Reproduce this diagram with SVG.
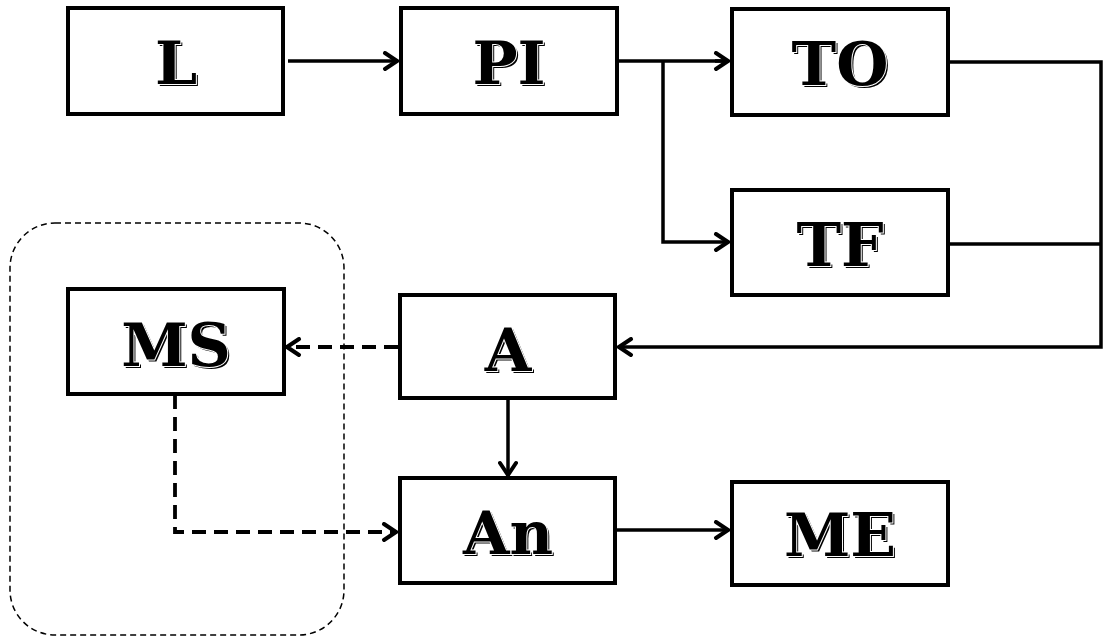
<svg xmlns="http://www.w3.org/2000/svg" width="1103" height="638" viewBox="0 0 1103 638">
<style>
.box{fill:#fff;stroke:#000;stroke-width:4}
.lbl{font-family:"DejaVu Serif","Liberation Serif",serif;font-weight:bold;font-size:60px;text-anchor:middle}
.sh{fill:#000}
.fg{fill:#000;stroke:#fff;stroke-width:2;paint-order:stroke}
.c{fill:none;stroke:#000;stroke-width:3.5}
.d{fill:none;stroke:#000;stroke-width:3.8;stroke-dasharray:14 8}
.grp{fill:none;stroke:#000;stroke-width:1.5;stroke-dasharray:6 4}
</style>
<defs>
<marker id="ar" viewBox="0 0 18 20" refX="16" refY="10" markerWidth="18" markerHeight="20" markerUnits="userSpaceOnUse" orient="auto">
<path d="M3,2 L15,10 L3,18" fill="none" stroke="#000" stroke-width="4" stroke-linecap="round" stroke-linejoin="miter"/>
</marker>
</defs>
<rect class="grp" x="10" y="223" width="334" height="412" rx="45" ry="45"/>
<g id="connectors">
<path class="c" d="M288,61 L398,61" marker-end="url(#ar)"/>
<path class="c" d="M618,61 L729,61"/>
<path class="c" d="M663,61 L663,242 L729,242" marker-end="url(#ar)"/>
<path class="c" d="M715,61 L729,61" marker-end="url(#ar)"/>
<path class="c" d="M949,62 L1101,62 L1101,347 L618,347" marker-end="url(#ar)"/>
<path class="c" d="M949,244 L1101,244"/>
<path class="c" d="M508,398 L508,476" marker-end="url(#ar)"/>
<path class="c" d="M616,530 L729,530" marker-end="url(#ar)"/>
<path class="d" d="M398,347 L286,347" marker-end="url(#ar)"/>
<path class="d" d="M175,395 L175,532 L397,532" marker-end="url(#ar)"/>
</g>
<g id="L"><rect class="box" x="68" y="8" width="215" height="106"/><text class="lbl sh" x="178" y="86">L</text><text class="lbl fg" x="176" y="84">L</text></g>
<g id="PI"><rect class="box" x="401" y="8" width="216" height="106"/><text class="lbl sh" x="511" y="86">PI</text><text class="lbl fg" x="509" y="84">PI</text></g>
<g id="TO"><rect class="box" x="732" y="9" width="216" height="106"/><text class="lbl sh" x="842" y="87">TO</text><text class="lbl fg" x="840" y="85">TO</text></g>
<g id="TF"><rect class="box" x="732" y="190" width="216" height="105"/><text class="lbl sh" x="842" y="268">TF</text><text class="lbl fg" x="840" y="266">TF</text></g>
<g id="MS"><rect class="box" x="68" y="289" width="216" height="105"/><text class="lbl sh" x="178" y="368">MS</text><text class="lbl fg" x="176" y="366">MS</text></g>
<g id="A"><rect class="box" x="400" y="295" width="215" height="103"/><text class="lbl sh" x="510" y="373">A</text><text class="lbl fg" x="508" y="371">A</text></g>
<g id="An"><rect class="box" x="400" y="478" width="215" height="105"/><text class="lbl sh" x="510" y="556">An</text><text class="lbl fg" x="508" y="554">An</text></g>
<g id="ME"><rect class="box" x="732" y="482" width="216" height="103"/><text class="lbl sh" x="842" y="558">ME</text><text class="lbl fg" x="840" y="556">ME</text></g>
</svg>
